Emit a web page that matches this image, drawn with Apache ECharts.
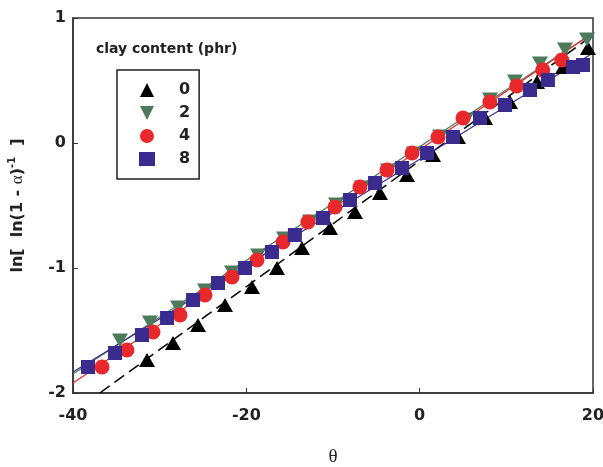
<!DOCTYPE html>
<html>
<head>
<meta charset="utf-8">
<script src="https://cdn.jsdelivr.net/npm/echarts@6/dist/echarts.min.js"></script>
<style>html,body{margin:0;padding:0;background:#fff;}#chart{width:603px;height:467px;}</style>
</head>
<body>
<div id="chart"></div>
<script>
// ---- data ----
const seriesNames = ['0', '2', '4', '8'];

const x0 = [-31.46, -28.46, -25.58, -22.46, -19.35, -16.46, -13.58, -10.35, -7.46, -4.58, -1.46, 1.54, 4.42, 7.54, 10.42, 13.54, 16.54, 19.42];
const y0 = [-1.736, -1.60, -1.456, -1.296, -1.152, -1.0, -0.84, -0.68, -0.552, -0.40, -0.256, -0.096, 0.048, 0.20, 0.328, 0.488, 0.608, 0.76];

const x2 = [-34.58, -31.12, -27.88, -24.77, -21.65, -18.65, -15.65, -12.65, -9.65, -6.65, -3.65, -0.65, 2.35, 5.35, 8.12, 11.0, 13.88, 16.77, 19.31];
const y2 = [-1.58, -1.436, -1.316, -1.18, -1.036, -0.90, -0.764, -0.628, -0.492, -0.356, -0.22, -0.084, 0.052, 0.188, 0.348, 0.492, 0.636, 0.748, 0.828];

const x4 = [-36.65, -33.77, -30.77, -27.65, -24.77, -21.65, -18.77, -15.77, -12.9, -9.77, -6.9, -3.77, -0.88, 2.12, 5.0, 8.1, 11.2, 14.2, 16.4];
const y4 = [-1.792, -1.656, -1.512, -1.376, -1.216, -1.072, -0.936, -0.792, -0.632, -0.512, -0.352, -0.216, -0.08, 0.048, 0.2, 0.328, 0.456, 0.584, 0.664];

const x8 = [-38.27, -35.15, -32.04, -29.15, -26.15, -23.27, -20.15, -17.04, -14.4, -11.15, -8.04, -5.15, -2.04, 0.85, 3.85, 6.96, 9.85, 12.73, 14.8, 17.7, 18.85];
const y8 = [-1.792, -1.68, -1.536, -1.40, -1.256, -1.12, -1.0, -0.872, -0.736, -0.60, -0.456, -0.32, -0.20, -0.08, 0.048, 0.2, 0.304, 0.424, 0.504, 0.608, 0.624];

// fitted straight lines (end points)
const fitX0 = [-36.9, 20]; const fitY0 = [-2.0, 0.864];
const fitX2 = [-40, 20];   const fitY2 = [-1.848, 0.88];
const fitX4 = [-40, 20];   const fitY4 = [-1.92, 0.88];
const fitX8 = [-40, 20];   const fitY8 = [-1.832, 0.72];

const xTicks = [-40, -20, 0, 20];
const yTicks = [-2, -1, 0, 1];

// ---- chart ----
const zip = (a, b) => a.map((v, i) => [v, b[i]]);
const colors = ['#000000', '#4d7a5a', '#e8282b', '#3a2b8e'];
const triUp = 'path://M5,0 L10,10 L0,10 Z';
const triDown = 'path://M0,0 L10,0 L5,10 Z';
const symbols = [triUp, triDown, 'circle', 'rect'];
const sizes = [[16, 14], [16, 14], 15, 14];
const pts = [zip(x0, y0), zip(x2, y2), zip(x4, y4), zip(x8, y8)];
const fits = [zip(fitX0, fitY0), zip(fitX2, fitY2), zip(fitX4, fitY4), zip(fitX8, fitY8)];
const FONT = 'DejaVu Sans';

const series = [];
for (let i = 0; i < 4; i++) {
  series.push({
    type: 'line', data: fits[i], showSymbol: false, symbol: 'none', silent: true,
    lineStyle: { color: colors[i], width: i === 0 ? 1.5 : 1.2, type: i === 0 ? [12, 6] : 'solid' },
    z: 2, clip: true
  });
}
for (let i = 0; i < 4; i++) {
  series.push({
    name: seriesNames[i], type: 'scatter', data: pts[i],
    symbol: symbols[i], symbolSize: sizes[i],
    itemStyle: { color: colors[i], opacity: 1 }, z: 3 + i
  });
}

const chart = echarts.init(document.getElementById('chart'));
chart.setOption({
  animation: false,
  backgroundColor: '#fff',
  grid: { left: 73, right: 10, top: 18, bottom: 74, outerBoundsMode: 'none', containLabel: false,
          show: true, borderColor: '#333', borderWidth: 1.5, backgroundColor: 'transparent' },
  xAxis: {
    type: 'value', min: xTicks[0], max: xTicks[xTicks.length - 1], interval: 20,
    name: 'θ', nameLocation: 'middle', nameGap: 55,
    nameTextStyle: { fontFamily: 'Liberation Serif', fontSize: 19, color: '#222' },
    axisLine: { onZero: false, lineStyle: { color: '#333', width: 1.5 } },
    axisTick: { inside: true, length: 5, lineStyle: { color: '#333' } },
    axisLabel: { fontFamily: FONT, fontWeight: 'bold', fontSize: 16, color: '#222', margin: 15 },
    splitLine: { show: false }
  },
  yAxis: {
    type: 'value', min: yTicks[0], max: yTicks[yTicks.length - 1], interval: 1,
    name: '{b|ln[  ln(1 - }{a|α}{b|)}{s|-1}{b|  ]}', nameLocation: 'middle', nameGap: 44,
    nameTextStyle: {
      rich: {
        b: { fontFamily: FONT, fontWeight: 'bold', fontSize: 16, color: '#222' },
        a: { fontFamily: 'Liberation Serif', fontSize: 17, color: '#222' },
        s: { fontFamily: FONT, fontWeight: 'bold', fontSize: 10, color: '#222', padding: [0, 0, 12, 0] }
      }
    },
    axisLine: { onZero: false, lineStyle: { color: '#333', width: 1.5 } },
    axisTick: { inside: true, length: 5, lineStyle: { color: '#333' } },
    axisLabel: { fontFamily: FONT, fontWeight: 'bold', fontSize: 16, color: '#222', margin: 7 },
    splitLine: { show: false }
  },
  legend: {
    data: seriesNames, orient: 'vertical', left: 117, top: 70,
    padding: [12, 9, 12, 22], itemGap: 7, itemWidth: 16, itemHeight: 14,
    borderColor: '#222', borderWidth: 1.5, borderRadius: 0,
    textStyle: { fontFamily: FONT, fontWeight: 'bold', fontSize: 16, lineHeight: 14, color: '#222', padding: [0, 0, 0, 19] }
  },
  graphic: [{
    type: 'text', left: 96, top: 42,
    style: { text: 'clay content (phr)', fontFamily: FONT, fontWeight: 'bold', fontSize: 14, fill: '#222' }
  }],
  series: series
});
</script>
</body>
</html>
